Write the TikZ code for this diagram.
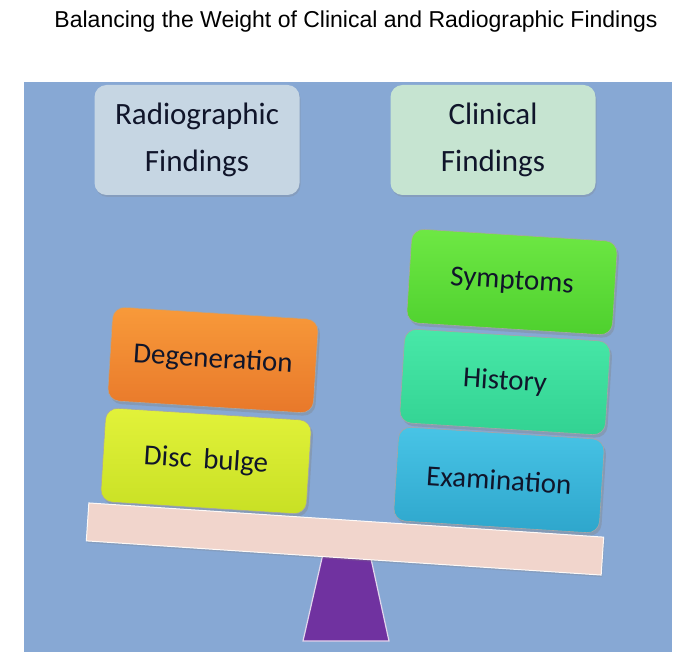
\documentclass[tikz,border=0pt]{standalone}
\usepackage{fontspec}
\setmainfont{Carlito}
\newfontfamily\titlefont{Liberation Sans}
\usetikzlibrary{shadows}
\definecolor{panel}{HTML}{87A8D4}
\definecolor{radbox}{HTML}{C6D6E3}
\definecolor{clinbox}{HTML}{C6E4D1}
\definecolor{degtop}{HTML}{F89A3A}
\definecolor{degbot}{HTML}{E8782A}
\definecolor{disctop}{HTML}{E2F23A}
\definecolor{discbot}{HTML}{C8E024}
\definecolor{symtop}{HTML}{6EE844}
\definecolor{symbot}{HTML}{4ED02E}
\definecolor{histop}{HTML}{48E8A8}
\definecolor{hisbot}{HTML}{32D292}
\definecolor{examtop}{HTML}{48C4E6}
\definecolor{exambot}{HTML}{2EA6CC}
\definecolor{beamcol}{HTML}{F1D5CC}
\definecolor{fulcrum}{HTML}{7032A0}
\definecolor{txt}{HTML}{10152A}
\tikzset{
  headbox/.style={rounded corners=12pt, minimum width=205pt, minimum height=110pt,
    align=center, font=\fontsize{31}{47}\selectfont, text=txt,
    drop shadow={shadow xshift=1pt, shadow yshift=-2pt, opacity=0.25}},
  block/.style={rounded corners=12pt, minimum width=206pt, minimum height=94pt,
    font=\fontsize{29}{32}\selectfont, text=txt, rotate=-3.6, draw=black!35, line width=0.6pt,
    drop shadow={shadow xshift=2pt, shadow yshift=-3pt, opacity=0.35}},
}
\begin{document}
\begin{tikzpicture}[x=1pt,y=-1pt]
\useasboundingbox (0,0) rectangle (699,671);
\fill[white] (0,0) rectangle (699,671);
\node[font=\titlefont\fontsize{23}{27}\selectfont] (title) at (356,22) {Balancing the Weight of Clinical and Radiographic Findings};
\fill[panel] (24,82) rectangle (672,652);
\node[headbox, fill=radbox] (rad) at (197,140) {Radiographic\\Findings};
\node[headbox, fill=clinbox] (clin) at (493,140) {Clinical\\Findings};
\node[block, top color=degtop, bottom color=degbot] (deg) at (213,360) {Degeneration};
\node[block, top color=disctop, bottom color=discbot] (disc) at (206,461) {Disc\, bulge};
\node[block, top color=symtop, bottom color=symbot] (sym) at (512,282) {Symptoms};
\node[block, top color=histop, bottom color=hisbot] (his) at (505,382) {History};
\node[block, top color=examtop, bottom color=exambot] (exam) at (499,480) {Examination};
\draw[fill=fulcrum, draw=white!80!fulcrum, line width=1.2pt] (325,545) -- (368,545) -- (389,641) -- (303,641) -- cycle;
\node[draw=white!85!beamcol, line width=1pt, fill=beamcol, minimum width=516pt, minimum height=38pt, rotate=-3.8,
  drop shadow={shadow xshift=1pt, shadow yshift=-2pt, opacity=0.25}] (beam) at (345,539) {};
\end{tikzpicture}
\end{document}
